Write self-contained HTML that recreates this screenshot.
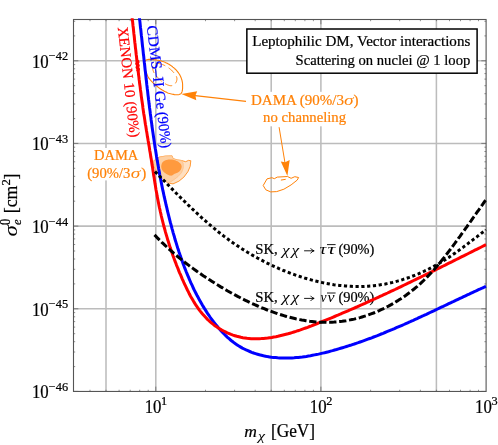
<!DOCTYPE html>
<html><head><meta charset="utf-8"><title>plot</title>
<style>html,body{margin:0;padding:0;background:#fff}svg{will-change:transform}body{width:498px;height:445px;overflow:hidden;font-family:"Liberation Serif",serif}</style></head>
<body>
<svg width="498" height="445" viewBox="0 0 498 445" style="display:block;font-family:'Liberation Serif',serif">
<rect width="498" height="445" fill="#fff"/>
<line x1="106.0" x2="106.0" y1="19.5" y2="391.45" stroke="#bcbcbc" stroke-width="1.55"/>
<line x1="155.8" x2="155.8" y1="19.5" y2="391.45" stroke="#bcbcbc" stroke-width="1.55"/>
<line x1="271.2" x2="271.2" y1="19.5" y2="391.45" stroke="#bcbcbc" stroke-width="1.55"/>
<line x1="320.9" x2="320.9" y1="19.5" y2="391.45" stroke="#bcbcbc" stroke-width="1.55"/>
<line x1="436.4" x2="436.4" y1="19.5" y2="391.45" stroke="#bcbcbc" stroke-width="1.55"/>
<line x1="73.5" x2="486.1" y1="60.8" y2="60.8" stroke="#bcbcbc" stroke-width="1.55"/>
<line x1="73.5" x2="486.1" y1="143.4" y2="143.4" stroke="#bcbcbc" stroke-width="1.55"/>
<line x1="73.5" x2="486.1" y1="226.1" y2="226.1" stroke="#bcbcbc" stroke-width="1.55"/>
<line x1="73.5" x2="486.1" y1="308.8" y2="308.8" stroke="#bcbcbc" stroke-width="1.55"/>
<clipPath id="cp"><rect x="73.5" y="18.3" width="413.20000000000005" height="373.15"/></clipPath>
<path d="M153.2,161.3 L159.0,157.2 L165.4,156.1 L172.1,155.9 L173.0,158.6 L177.1,159.9 L181.2,160.4 L185.7,161.7 L188.4,160.4 L190.8,160.7 L190.2,166.3 L187.9,171.7 L183.9,177.1 L178.9,181.2 L173.0,183.9 L168.1,183.0 L162.6,178.9 L157.2,172.6 L154.1,166.3Z" fill="#fee0c2" stroke="#ff8208" stroke-width="0.8" stroke-linejoin="round"/>
<path d="M153.2,161.3 L159.0,157.2 L165.4,156.1 L172.1,155.9 L173.0,158.6 L177.1,159.9 L181.6,160.6 L183.2,163.5 L183.3,168.0 L181.6,172.5 L178.0,176.6 L173.5,180.0 L169.8,182.4 L168.1,183.0 L162.6,178.9 L157.2,172.6 L154.1,166.3Z" fill="#fdd0a4" stroke="#fdb877" stroke-width="0.6" stroke-linejoin="round"/>
<path d="M161.2,166.4 L161.2,165.9 L161.3,165.4 L161.4,164.9 L161.5,164.4 L161.7,163.9 L161.8,163.5 L162.1,163.0 L162.3,162.6 L162.6,162.2 L162.9,161.9 L163.3,161.5 L163.7,161.2 L164.1,161.0 L164.5,160.7 L164.9,160.5 L165.4,160.3 L165.9,160.2 L166.3,160.0 L166.8,159.9 L167.3,159.8 L167.8,159.7 L168.3,159.6 L168.7,159.6 L169.2,159.5 L169.7,159.5 L170.2,159.5 L170.6,159.5 L171.1,159.5 L171.6,159.5 L172.0,159.6 L172.5,159.6 L173.0,159.7 L173.4,159.8 L173.9,159.9 L174.3,160.0 L174.8,160.2 L175.2,160.3 L175.7,160.5 L176.1,160.7 L176.6,160.9 L177.0,161.1 L177.5,161.3 L177.9,161.5 L178.3,161.8 L178.7,162.1 L179.1,162.4 L179.5,162.7 L179.9,163.0 L180.2,163.3 L180.5,163.7 L180.8,164.0 L181.1,164.4 L181.3,164.8 L181.4,165.2 L181.6,165.7 L181.6,166.1 L181.7,166.6 L181.6,167.0 L181.6,167.5 L181.4,168.0 L181.3,168.5 L181.1,169.0 L180.9,169.5 L180.6,169.9 L180.3,170.3 L180.0,170.7 L179.7,171.1 L179.4,171.4 L179.0,171.8 L178.6,172.0 L178.2,172.3 L177.8,172.5 L177.4,172.7 L177.0,172.9 L176.5,173.1 L176.1,173.2 L175.6,173.4 L175.2,173.6 L174.7,173.7 L174.3,173.9 L173.9,174.2 L173.5,174.4 L173.2,174.7 L172.8,175.0 L172.4,175.3 L172.1,175.5 L171.7,175.6 L171.2,175.7 L170.8,175.7 L170.4,175.6 L169.9,175.5 L169.4,175.4 L169.0,175.2 L168.5,175.0 L168.0,174.8 L167.6,174.6 L167.1,174.4 L166.7,174.1 L166.3,173.9 L165.8,173.6 L165.4,173.3 L165.0,173.0 L164.6,172.7 L164.3,172.4 L163.9,172.1 L163.6,171.8 L163.2,171.4 L162.9,171.1 L162.6,170.7 L162.4,170.3 L162.1,169.9 L161.9,169.5 L161.7,169.1 L161.6,168.7 L161.4,168.2 L161.3,167.8 L161.3,167.3 L161.2,166.9 L161.2,166.4Z" fill="#ff9a3e" stroke="none"/>
<path d="M145.6,60.5 L146.2,60.1 L147.0,59.7 L147.9,59.5 L148.8,59.4 L149.9,59.4 L151.0,59.4 L152.1,59.5 L153.2,59.6 L154.3,59.8 L155.4,59.9 L156.4,60.0 L157.3,60.2 L158.3,60.3 L159.2,60.5 L160.1,60.7 L161.0,60.9 L161.9,61.2 L162.8,61.4 L163.7,61.8 L164.6,62.1 L165.4,62.5 L166.3,62.9 L167.2,63.3 L168.0,63.8 L168.9,64.2 L169.7,64.8 L170.5,65.3 L171.4,65.9 L172.2,66.5 L172.9,67.1 L173.7,67.7 L174.4,68.4 L175.1,69.0 L175.8,69.7 L176.5,70.4 L177.1,71.2 L177.7,71.9 L178.3,72.7 L178.9,73.5 L179.4,74.3 L179.9,75.1 L180.3,75.9 L180.7,76.8 L181.1,77.7 L181.4,78.6 L181.7,79.5 L182.0,80.4 L182.2,81.3 L182.4,82.3 L182.5,83.2 L182.6,84.2 L182.6,85.2 L182.6,86.2 L182.6,87.2 L182.6,88.2 L182.5,89.2 L182.4,90.2 L182.2,91.2 L181.9,92.1 L181.5,93.0 L180.9,93.6 L180.2,94.1 L179.3,94.5 L178.4,94.7 L177.4,94.8 L176.4,94.8 L175.4,94.7 L174.4,94.6 L173.5,94.4 L172.5,94.2 L171.5,94.0 L170.6,93.8 L169.7,93.5 L168.7,93.2 L167.8,92.9 L166.9,92.5 L166.1,92.1 L165.2,91.7 L164.3,91.3 L163.5,90.8 L162.7,90.3 L161.8,89.8 L161.0,89.3 L160.2,88.8 L159.5,88.2 L158.7,87.6 L157.9,87.0 L157.2,86.4 L156.4,85.8 L155.7,85.2 L155.0,84.5 L154.2,83.8 L153.5,83.2 L152.8,82.5 L152.1,81.8 L151.4,81.1 L150.7,80.4 L150.1,79.7 L149.5,78.9 L148.9,78.2 L148.4,77.4 L147.9,76.6 L147.5,75.8 L147.2,74.9 L146.8,74.1 L146.5,73.1 L146.2,72.2 L145.9,71.2 L145.6,70.2 L145.4,69.1 L145.1,68.0 L144.9,66.9 L144.7,65.8 L144.6,64.7 L144.6,63.7 L144.6,62.7 L144.8,61.9 L145.1,61.1 L145.6,60.5Z" fill="none" stroke="#ff8208" stroke-width="1.1"/>
<path d="M161.1,64.1 L161.7,64.3 L162.3,64.5 L162.9,64.7 L163.4,64.9 L164.0,65.2 L164.5,65.4 L165.1,65.7 L165.6,66.0 L166.1,66.2 L166.6,66.5 L167.1,66.8 L167.6,67.1 L168.1,67.5 L168.6,67.8 L169.0,68.1 L169.5,68.5 L169.9,68.9 L170.4,69.2 L170.8,69.6 L171.3,70.0 L171.7,70.4 L172.1,70.9 L172.5,71.3 L173.0,71.7 L173.4,72.2 L173.8,72.7 L174.2,73.1 L174.6,73.6 L175.0,74.1 L175.3,74.6 L175.7,75.2 L176.0,75.7 L176.3,76.2 L176.5,76.8 L176.7,77.3 L176.8,77.9 L176.9,78.5 L176.9,79.1 L176.9,79.7 L176.8,80.3 L176.6,80.8 L176.5,81.4 L176.2,82.0 L175.9,82.5 L175.6,83.0 L175.3,83.5 L174.9,83.9 L174.5,84.3 L174.0,84.7 L173.5,85.0 L173.0,85.3 L172.5,85.5 L171.9,85.6 L171.4,85.7 L170.8,85.7 L170.2,85.7 L169.6,85.6 L169.0,85.4 L168.4,85.2 L167.8,85.0 L167.3,84.8 L166.7,84.5 L166.1,84.3 L165.6,84.0 L165.1,83.7 L164.5,83.4 L164.0,83.0 L163.5,82.7 L163.1,82.3 L162.6,82.0 L162.1,81.6 L161.7,81.2 L161.2,80.8 L160.8,80.5 L160.3,80.1 L159.9,79.6 L159.5,79.2 L159.0,78.8 L158.6,78.4 L158.2,78.0 L157.8,77.5 L157.3,77.1 L156.9,76.7 L156.5,76.2 L156.1,75.8 L155.7,75.3 L155.4,74.8 L155.0,74.3 L154.7,73.8 L154.3,73.3 L154.0,72.8 L153.8,72.2 L153.5,71.7 L153.3,71.1 L153.1,70.5 L152.9,69.9 L152.8,69.3 L152.7,68.6 L152.6,68.0 L152.6,67.4 L152.7,66.8 L152.7,66.3 L152.9,65.8 L153.1,65.3 L153.4,64.8 L153.7,64.4 L154.1,64.1 L154.6,63.8 L155.0,63.6 L155.5,63.4 L156.1,63.4 L156.7,63.3 L157.3,63.3 L157.9,63.4 L158.5,63.5 L159.2,63.6 L159.8,63.7 L160.4,63.9 L161.1,64.1Z" fill="none" stroke="#ff8208" stroke-width="1" stroke-dasharray="7.5 4" stroke-dashoffset="3"/>
<path d="M263.2,185.5 L267.0,178.9 L271.9,177.7 L274.3,178.7 L277.3,177.1 L287.5,176.5 L291.1,178.3 L294.8,176.7 L298.6,177.5 L297.2,180.1 L291.1,184.9 L283.9,189.2 L276.7,191.6 L270.7,191.9 L265.8,189.8Z" fill="none" stroke="#ff8208" stroke-width="1" stroke-linejoin="round"/>
<path d="M280.9,180.1 L285.7,179.3" stroke="#ff8208" stroke-width="1"/>
<path d="M246,101.3 L193,95.3" stroke="#ff8208" stroke-width="1.2" fill="none"/>
<path d="M181.4,93.9 L197.2,91.2 L195.4,95.5 L196.3,100.2 Z" fill="#ff8208"/>
<path d="M279.1,127.2 L285,163" stroke="#ff8208" stroke-width="1" fill="none"/>
<path d="M287.4,176 L280.8,161.4 L285.1,162.3 L289.7,159.9 Z" fill="#ff8208"/>
<rect x="73.5" y="19.5" width="412.6" height="371.95" fill="none" stroke="#555" stroke-width="1.1"/>
<path d="M90.0,391.45 v-1.7 M90.0,19.5 v1.7 M106.0,391.45 v-1.7 M106.0,19.5 v1.7 M119.1,391.45 v-1.7 M119.1,19.5 v1.7 M130.2,391.45 v-1.7 M130.2,19.5 v1.7 M139.7,391.45 v-1.7 M139.7,19.5 v1.7 M148.2,391.45 v-1.7 M148.2,19.5 v1.7 M155.8,391.45 v-4.8 M155.8,19.5 v4.8 M205.5,391.45 v-1.7 M205.5,19.5 v1.7 M234.6,391.45 v-1.7 M234.6,19.5 v1.7 M255.2,391.45 v-1.7 M255.2,19.5 v1.7 M271.2,391.45 v-1.7 M271.2,19.5 v1.7 M284.3,391.45 v-1.7 M284.3,19.5 v1.7 M295.3,391.45 v-1.7 M295.3,19.5 v1.7 M304.9,391.45 v-1.7 M304.9,19.5 v1.7 M313.4,391.45 v-1.7 M313.4,19.5 v1.7 M320.9,391.45 v-4.8 M320.9,19.5 v4.8 M370.6,391.45 v-1.7 M370.6,19.5 v1.7 M399.7,391.45 v-1.7 M399.7,19.5 v1.7 M420.4,391.45 v-1.7 M420.4,19.5 v1.7 M436.4,391.45 v-1.7 M436.4,19.5 v1.7 M449.5,391.45 v-1.7 M449.5,19.5 v1.7 M460.5,391.45 v-1.7 M460.5,19.5 v1.7 M470.1,391.45 v-1.7 M470.1,19.5 v1.7 M478.5,391.45 v-1.7 M478.5,19.5 v1.7 M73.5,391.4 h4.8 M486.1,391.4 h-4.8 M73.5,366.6 h1.7 M486.1,366.6 h-1.7 M73.5,352.0 h1.7 M486.1,352.0 h-1.7 M73.5,341.7 h1.7 M486.1,341.7 h-1.7 M73.5,333.7 h1.7 M486.1,333.7 h-1.7 M73.5,327.1 h1.7 M486.1,327.1 h-1.7 M73.5,321.6 h1.7 M486.1,321.6 h-1.7 M73.5,316.8 h1.7 M486.1,316.8 h-1.7 M73.5,312.6 h1.7 M486.1,312.6 h-1.7 M73.5,308.8 h4.8 M486.1,308.8 h-4.8 M73.5,283.9 h1.7 M486.1,283.9 h-1.7 M73.5,269.3 h1.7 M486.1,269.3 h-1.7 M73.5,259.0 h1.7 M486.1,259.0 h-1.7 M73.5,251.0 h1.7 M486.1,251.0 h-1.7 M73.5,244.5 h1.7 M486.1,244.5 h-1.7 M73.5,238.9 h1.7 M486.1,238.9 h-1.7 M73.5,234.1 h1.7 M486.1,234.1 h-1.7 M73.5,229.9 h1.7 M486.1,229.9 h-1.7 M73.5,226.1 h4.8 M486.1,226.1 h-4.8 M73.5,201.2 h1.7 M486.1,201.2 h-1.7 M73.5,186.7 h1.7 M486.1,186.7 h-1.7 M73.5,176.3 h1.7 M486.1,176.3 h-1.7 M73.5,168.3 h1.7 M486.1,168.3 h-1.7 M73.5,161.8 h1.7 M486.1,161.8 h-1.7 M73.5,156.3 h1.7 M486.1,156.3 h-1.7 M73.5,151.5 h1.7 M486.1,151.5 h-1.7 M73.5,147.2 h1.7 M486.1,147.2 h-1.7 M73.5,143.4 h4.8 M486.1,143.4 h-4.8 M73.5,118.6 h1.7 M486.1,118.6 h-1.7 M73.5,104.0 h1.7 M486.1,104.0 h-1.7 M73.5,93.7 h1.7 M486.1,93.7 h-1.7 M73.5,85.7 h1.7 M486.1,85.7 h-1.7 M73.5,79.1 h1.7 M486.1,79.1 h-1.7 M73.5,73.6 h1.7 M486.1,73.6 h-1.7 M73.5,68.8 h1.7 M486.1,68.8 h-1.7 M73.5,64.6 h1.7 M486.1,64.6 h-1.7 M73.5,60.8 h4.8 M486.1,60.8 h-4.8 M73.5,35.9 h1.7 M486.1,35.9 h-1.7 M73.5,21.3 h1.7 M486.1,21.3 h-1.7" stroke="#555" stroke-width="0.65" fill="none"/>
<text x="255.2" y="254.0" font-size="14.6" textLength="22.6" lengthAdjust="spacingAndGlyphs" stroke="#000" stroke-width="0.22">SK,</text>
<text x="282" y="254.8" font-size="13.6" font-style="italic" textLength="7.6" lengthAdjust="spacingAndGlyphs">χ</text>
<text x="291.6" y="254.8" font-size="13.6" font-style="italic" textLength="7.6" lengthAdjust="spacingAndGlyphs">χ</text>
<path d="M304.1,250.8 H314 M310.6,248.20000000000002 Q311.6,250.20000000000002 314.2,250.8 Q311.6,251.4 310.6,253.4" fill="none" stroke="#000" stroke-width="0.9"/>
<text x="319.6" y="254.0" font-size="14.6" font-style="italic" textLength="6.8" lengthAdjust="spacingAndGlyphs">τ</text>
<text x="327.6" y="254.0" font-size="14.6" font-style="italic" textLength="7.8" lengthAdjust="spacingAndGlyphs">τ</text>
<line x1="327" x2="335.6" y1="244.6" y2="244.6" stroke="#000" stroke-width="0.9"/>
<text x="338.4" y="254.0" font-size="14.6" textLength="36" lengthAdjust="spacingAndGlyphs" stroke="#000" stroke-width="0.22">(90%)</text>
<text x="255.2" y="301.6" font-size="14.6" textLength="22.6" lengthAdjust="spacingAndGlyphs" stroke="#000" stroke-width="0.22">SK,</text>
<text x="282" y="302.40000000000003" font-size="13.6" font-style="italic" textLength="7.6" lengthAdjust="spacingAndGlyphs">χ</text>
<text x="291.6" y="302.40000000000003" font-size="13.6" font-style="italic" textLength="7.6" lengthAdjust="spacingAndGlyphs">χ</text>
<path d="M304.1,298.40000000000003 H314 M310.6,295.8 Q311.6,297.8 314.2,298.40000000000003 Q311.6,299.00000000000006 310.6,301.00000000000006" fill="none" stroke="#000" stroke-width="0.9"/>
<text x="320.4" y="301.6" font-size="14.6" font-style="italic" textLength="6.0" lengthAdjust="spacingAndGlyphs">ν</text>
<text x="327.6" y="301.6" font-size="14.6" font-style="italic" textLength="7.0" lengthAdjust="spacingAndGlyphs">ν</text>
<line x1="327" x2="335.6" y1="293.0" y2="293.0" stroke="#000" stroke-width="0.9"/>
<text x="338.4" y="301.6" font-size="14.6" textLength="36" lengthAdjust="spacingAndGlyphs" stroke="#000" stroke-width="0.22">(90%)</text>
<g clip-path="url(#cp)" fill="none">
<path d="M139.4,17.6 L139.6,19.6 L139.9,21.6 L140.1,23.7 L140.3,25.7 L140.5,27.7 L140.8,29.8 L141.0,31.8 L141.2,33.8 L141.4,35.9 L141.7,37.9 L141.9,40.0 L142.1,42.0 L142.3,44.0 L142.5,46.1 L142.8,48.1 L143.0,50.2 L143.2,52.2 L143.4,54.3 L143.7,56.3 L143.9,58.3 L144.1,60.4 L144.3,62.4 L144.6,64.5 L144.8,66.5 L145.0,68.6 L145.2,70.6 L145.5,72.6 L145.7,74.7 L145.9,76.7 L146.1,78.8 L146.4,80.8 L146.6,82.9 L146.8,84.9 L147.1,87.0 L147.3,89.0 L147.6,91.1 L147.8,93.1 L148.0,95.1 L148.3,97.2 L148.5,99.2 L148.8,101.3 L149.0,103.3 L149.3,105.4 L149.5,107.4 L149.8,109.5 L150.1,111.5 L150.3,113.5 L150.6,115.6 L150.9,117.6 L151.1,119.7 L151.4,121.7 L151.7,123.7 L151.9,125.8 L152.2,127.8 L152.5,129.9 L152.8,131.9 L153.1,133.9 L153.4,136.0 L153.7,138.0 L154.0,140.1 L154.3,142.1 L154.6,144.1 L154.9,146.2 L155.2,148.2 L155.6,150.2 L155.9,152.3 L156.2,154.3 L156.5,156.3 L156.9,158.3 L157.2,160.4 L157.6,162.4 L157.9,164.4 L158.3,166.5 L158.6,168.5 L159.0,170.5 L159.4,172.5 L159.7,174.5 L160.1,176.6 L160.5,178.6 L160.9,180.6 L161.3,182.6 L161.7,184.6 L162.1,186.6 L162.5,188.7 L162.9,190.7 L163.4,192.7 L163.8,194.7 L164.2,196.7 L164.7,198.7 L165.1,200.7 L165.6,202.7 L166.0,204.7 L166.5,206.7 L167.0,208.7 L167.4,210.7 L167.9,212.7 L168.4,214.7 L168.9,216.7 L169.4,218.7 L169.9,220.7 L170.4,222.7 L171.0,224.6 L171.5,226.6 L172.0,228.6 L172.6,230.6 L173.1,232.6 L173.7,234.6 L174.3,236.5 L174.8,238.5 L175.4,240.5 L176.0,242.4 L176.6,244.4 L177.2,246.4 L177.8,248.3 L178.5,250.3 L179.1,252.2 L179.8,254.2 L180.4,256.1 L181.1,258.1 L181.8,260.0 L182.5,261.9 L183.2,263.9 L183.9,265.8 L184.6,267.7 L185.4,269.6 L186.1,271.5 L186.9,273.4 L187.7,275.3 L188.5,277.2 L189.3,279.1 L190.1,281.0 L190.9,282.9 L191.8,284.7 L192.7,286.6 L193.5,288.5 L194.4,290.3 L195.4,292.2 L196.3,294.0 L197.2,295.8 L198.2,297.6 L199.2,299.4 L200.2,301.2 L201.2,303.0 L202.2,304.8 L203.3,306.6 L204.4,308.4 L205.5,310.1 L206.6,311.9 L207.7,313.6 L208.9,315.3 L210.0,317.0 L211.2,318.7 L212.5,320.4 L213.7,322.0 L215.0,323.6 L216.3,325.2 L217.6,326.8 L218.9,328.4 L220.3,330.0 L221.7,331.5 L223.1,333.0 L224.6,334.5 L226.0,335.9 L227.5,337.3 L229.1,338.7 L230.6,340.0 L232.2,341.3 L233.9,342.6 L235.5,343.8 L237.2,344.9 L238.9,346.0 L240.7,347.1 L242.4,348.1 L244.2,349.0 L246.1,349.9 L247.9,350.7 L249.8,351.5 L251.7,352.3 L253.6,353.0 L255.5,353.6 L257.5,354.2 L259.4,354.8 L261.4,355.3 L263.4,355.8 L265.4,356.2 L267.4,356.6 L269.5,356.9 L271.5,357.2 L273.6,357.4 L275.6,357.6 L277.7,357.8 L279.7,357.9 L281.8,358.0 L283.8,358.1 L285.9,358.1 L288.0,358.1 L290.0,358.0 L292.1,357.9 L294.1,357.8 L296.2,357.6 L298.2,357.4 L300.3,357.2 L302.3,357.0 L304.4,356.7 L306.4,356.4 L308.4,356.0 L310.5,355.7 L312.5,355.3 L314.5,354.9 L316.6,354.5 L318.6,354.1 L320.6,353.6 L322.6,353.1 L324.6,352.7 L326.6,352.2 L328.6,351.7 L330.6,351.1 L332.6,350.6 L334.6,350.0 L336.6,349.5 L338.6,348.9 L340.6,348.3 L342.5,347.7 L344.5,347.1 L346.5,346.5 L348.4,345.9 L350.4,345.3 L352.3,344.6 L354.3,344.0 L356.2,343.3 L358.2,342.7 L360.1,342.0 L362.0,341.3 L364.0,340.6 L365.9,339.9 L367.8,339.2 L369.8,338.5 L371.7,337.8 L373.6,337.0 L375.5,336.3 L377.4,335.6 L379.3,334.8 L381.2,334.0 L383.1,333.3 L385.0,332.5 L386.9,331.7 L388.8,330.9 L390.7,330.1 L392.6,329.4 L394.5,328.6 L396.4,327.7 L398.3,326.9 L400.2,326.1 L402.1,325.3 L403.9,324.5 L405.8,323.6 L407.7,322.8 L409.6,322.0 L411.4,321.1 L413.3,320.3 L415.2,319.4 L417.1,318.6 L418.9,317.7 L420.8,316.8 L422.7,316.0 L424.5,315.1 L426.4,314.3 L428.3,313.4 L430.1,312.5 L432.0,311.6 L433.8,310.8 L435.7,309.9 L437.6,309.0 L439.4,308.1 L441.3,307.2 L443.2,306.4 L445.0,305.5 L446.9,304.6 L448.7,303.7 L450.6,302.8 L452.5,302.0 L454.3,301.1 L456.2,300.2 L458.0,299.3 L459.9,298.4 L461.8,297.6 L463.6,296.7 L465.5,295.8 L467.3,294.9 L469.2,294.1 L471.1,293.2 L472.9,292.3 L474.8,291.5 L476.7,290.6 L478.5,289.7 L480.4,288.9 L482.3,288.0 L484.2,287.2 L486.0,286.3" stroke="#0000ff" stroke-width="3"/>
<path d="M132.1,17.5 L132.3,19.6 L132.6,21.6 L132.8,23.7 L133.0,25.7 L133.3,27.8 L133.5,29.8 L133.7,31.9 L133.9,33.9 L134.2,36.0 L134.4,38.1 L134.6,40.1 L134.8,42.2 L135.1,44.2 L135.3,46.3 L135.5,48.3 L135.8,50.4 L136.0,52.5 L136.2,54.5 L136.5,56.6 L136.7,58.6 L136.9,60.7 L137.2,62.7 L137.4,64.8 L137.6,66.8 L137.9,68.9 L138.1,71.0 L138.4,73.0 L138.6,75.1 L138.9,77.1 L139.1,79.2 L139.4,81.2 L139.6,83.3 L139.9,85.3 L140.2,87.4 L140.4,89.4 L140.7,91.5 L141.0,93.5 L141.2,95.6 L141.5,97.6 L141.8,99.7 L142.1,101.7 L142.4,103.8 L142.7,105.8 L142.9,107.9 L143.2,109.9 L143.5,112.0 L143.8,114.0 L144.2,116.1 L144.5,118.1 L144.8,120.1 L145.1,122.2 L145.4,124.2 L145.8,126.2 L146.1,128.3 L146.4,130.3 L146.8,132.4 L147.1,134.4 L147.4,136.4 L147.8,138.5 L148.1,140.5 L148.5,142.6 L148.8,144.6 L149.2,146.6 L149.5,148.7 L149.8,150.7 L150.2,152.8 L150.5,154.8 L150.8,156.9 L151.2,158.9 L151.5,161.0 L151.8,163.0 L152.1,165.1 L152.5,167.1 L152.8,169.2 L153.1,171.3 L153.4,173.3 L153.7,175.4 L154.1,177.4 L154.4,179.5 L154.7,181.5 L155.0,183.6 L155.4,185.7 L155.7,187.7 L156.0,189.8 L156.4,191.8 L156.8,193.8 L157.1,195.9 L157.5,197.9 L157.9,199.9 L158.3,202.0 L158.7,204.0 L159.1,206.0 L159.5,208.0 L160.0,210.0 L160.4,212.0 L160.9,214.0 L161.3,216.0 L161.8,218.0 L162.3,220.0 L162.8,222.0 L163.3,224.0 L163.8,226.0 L164.4,228.0 L164.9,229.9 L165.4,231.9 L166.0,233.9 L166.6,235.9 L167.2,237.8 L167.7,239.8 L168.4,241.7 L169.0,243.7 L169.6,245.6 L170.2,247.6 L170.9,249.5 L171.6,251.5 L172.2,253.4 L172.9,255.4 L173.6,257.3 L174.3,259.3 L175.0,261.2 L175.8,263.1 L176.5,265.1 L177.3,267.0 L178.1,268.9 L178.8,270.9 L179.6,272.8 L180.5,274.7 L181.3,276.6 L182.1,278.6 L183.0,280.5 L183.8,282.4 L184.7,284.3 L185.6,286.2 L186.5,288.1 L187.4,290.0 L188.4,291.9 L189.3,293.8 L190.3,295.7 L191.3,297.5 L192.4,299.3 L193.4,301.1 L194.5,302.9 L195.6,304.7 L196.8,306.4 L198.0,308.1 L199.2,309.8 L200.4,311.4 L201.7,313.0 L203.0,314.6 L204.4,316.1 L205.8,317.6 L207.2,319.1 L208.7,320.5 L210.2,321.9 L211.7,323.2 L213.3,324.4 L214.9,325.7 L216.6,326.8 L218.3,328.0 L220.1,329.0 L221.8,330.1 L223.6,331.0 L225.4,331.9 L227.3,332.8 L229.2,333.6 L231.1,334.4 L233.0,335.1 L234.9,335.7 L236.9,336.3 L238.9,336.8 L240.9,337.3 L242.9,337.7 L244.9,338.0 L247.0,338.3 L249.0,338.5 L251.1,338.7 L253.1,338.8 L255.2,338.8 L257.3,338.8 L259.4,338.7 L261.4,338.6 L263.5,338.4 L265.6,338.2 L267.7,338.0 L269.7,337.7 L271.8,337.4 L273.8,337.0 L275.9,336.7 L277.9,336.3 L279.9,335.8 L282.0,335.3 L284.0,334.8 L286.0,334.3 L288.0,333.8 L290.0,333.2 L292.0,332.6 L293.9,332.0 L295.9,331.4 L297.9,330.7 L299.8,330.1 L301.8,329.4 L303.8,328.7 L305.7,328.0 L307.7,327.3 L309.6,326.5 L311.5,325.8 L313.5,325.0 L315.4,324.3 L317.4,323.5 L319.3,322.7 L321.2,322.0 L323.1,321.2 L325.1,320.4 L327.0,319.6 L328.9,318.8 L330.8,318.1 L332.7,317.3 L334.6,316.5 L336.5,315.7 L338.5,314.9 L340.4,314.0 L342.3,313.2 L344.2,312.4 L346.1,311.6 L348.0,310.8 L349.9,310.0 L351.8,309.1 L353.7,308.3 L355.6,307.5 L357.5,306.7 L359.3,305.8 L361.2,305.0 L363.1,304.1 L365.0,303.3 L366.9,302.4 L368.8,301.6 L370.7,300.7 L372.5,299.9 L374.4,299.0 L376.3,298.2 L378.2,297.3 L380.0,296.4 L381.9,295.6 L383.8,294.7 L385.7,293.8 L387.5,293.0 L389.4,292.1 L391.3,291.2 L393.2,290.3 L395.0,289.5 L396.9,288.6 L398.8,287.7 L400.6,286.8 L402.5,285.9 L404.3,285.0 L406.2,284.1 L408.1,283.2 L409.9,282.3 L411.8,281.4 L413.6,280.5 L415.5,279.6 L417.4,278.7 L419.2,277.8 L421.1,276.9 L422.9,276.0 L424.8,275.1 L426.7,274.2 L428.5,273.3 L430.4,272.4 L432.2,271.5 L434.1,270.6 L435.9,269.6 L437.8,268.7 L439.6,267.8 L441.5,266.9 L443.3,266.0 L445.2,265.1 L447.0,264.1 L448.9,263.2 L450.7,262.3 L452.6,261.4 L454.5,260.4 L456.3,259.5 L458.2,258.6 L460.0,257.7 L461.9,256.7 L463.7,255.8 L465.6,254.9 L467.4,254.0 L469.3,253.0 L471.1,252.1 L473.0,251.2 L474.8,250.2 L476.7,249.3 L478.6,248.4 L480.4,247.5 L482.3,246.5 L484.1,245.6 L486.0,244.7" stroke="#ff0000" stroke-width="3"/>
<path d="M137.1,60.5 l0.9,1.6 l-1.2,1.6 l1.4,1.8 l-1.1,1.9 l1.3,1.8 l-0.6,2.2" stroke="#ff0000" stroke-width="3.2" stroke-linejoin="round"/>
<path d="M155.0,171.5 L156.3,172.9 L157.7,174.2 L159.0,175.6 L160.3,177.0 L161.7,178.4 L163.0,179.7 L164.4,181.1 L165.7,182.5 L167.1,183.9 L168.4,185.2 L169.8,186.6 L171.1,188.0 L172.5,189.4 L173.8,190.7 L175.2,192.1 L176.5,193.5 L177.9,194.9 L179.3,196.2 L180.6,197.6 L182.0,198.9 L183.4,200.3 L184.8,201.7 L186.2,203.0 L187.5,204.4 L188.9,205.7 L190.3,207.1 L191.7,208.4 L193.1,209.7 L194.5,211.0 L195.9,212.4 L197.4,213.7 L198.8,215.0 L200.2,216.3 L201.6,217.6 L203.1,218.9 L204.5,220.2 L206.0,221.4 L207.4,222.7 L208.9,224.0 L210.3,225.2 L211.8,226.5 L213.3,227.7 L214.8,228.9 L216.3,230.2 L217.7,231.4 L219.2,232.6 L220.8,233.7 L222.3,234.9 L223.8,236.1 L225.3,237.2 L226.9,238.4 L228.4,239.5 L230.0,240.7 L231.5,241.8 L233.1,242.9 L234.6,244.0 L236.2,245.0 L237.8,246.1 L239.4,247.2 L241.0,248.2 L242.6,249.2 L244.2,250.2 L245.9,251.3 L247.5,252.3 L249.1,253.2 L250.8,254.2 L252.4,255.2 L254.1,256.1 L255.8,257.1 L257.4,258.0 L259.1,258.9 L260.8,259.8 L262.5,260.7 L264.2,261.6 L265.9,262.5 L267.6,263.3 L269.4,264.2 L271.1,265.0 L272.9,265.8 L274.6,266.6 L276.4,267.4 L278.1,268.2 L279.9,269.0 L281.7,269.7 L283.5,270.5 L285.3,271.2 L287.1,271.9 L288.9,272.6 L290.7,273.3 L292.5,274.0 L294.4,274.6 L296.2,275.3 L298.0,275.9 L299.9,276.5 L301.7,277.1 L303.6,277.7 L305.4,278.3 L307.3,278.8 L309.2,279.4 L311.1,279.9 L312.9,280.4 L314.8,280.9 L316.7,281.3 L318.6,281.8 L320.5,282.2 L322.4,282.6 L324.3,283.0 L326.2,283.4 L328.1,283.7 L330.0,284.1 L331.9,284.4 L333.8,284.7 L335.7,284.9 L337.6,285.2 L339.5,285.4 L341.4,285.6 L343.3,285.8 L345.3,286.0 L347.2,286.1 L349.1,286.2 L351.0,286.3 L352.9,286.4 L354.8,286.5 L356.7,286.5 L358.7,286.5 L360.6,286.5 L362.5,286.4 L364.4,286.4 L366.3,286.3 L368.2,286.2 L370.1,286.0 L372.0,285.9 L373.9,285.7 L375.8,285.4 L377.7,285.2 L379.6,284.9 L381.5,284.6 L383.4,284.3 L385.3,284.0 L387.1,283.6 L389.0,283.2 L390.9,282.8 L392.7,282.4 L394.6,281.9 L396.5,281.4 L398.3,280.9 L400.2,280.4 L402.0,279.8 L403.8,279.2 L405.7,278.6 L407.5,278.0 L409.3,277.4 L411.1,276.7 L412.9,276.0 L414.7,275.3 L416.5,274.6 L418.3,273.9 L420.0,273.1 L421.8,272.3 L423.6,271.5 L425.3,270.7 L427.1,269.9 L428.8,269.0 L430.5,268.1 L432.2,267.2 L433.9,266.3 L435.6,265.4 L437.3,264.5 L439.0,263.5 L440.6,262.5 L442.3,261.5 L443.9,260.5 L445.6,259.5 L447.2,258.4 L448.8,257.4 L450.4,256.3 L452.0,255.2 L453.6,254.1 L455.2,253.0 L456.7,251.9 L458.3,250.8 L459.9,249.6 L461.4,248.5 L463.0,247.4 L464.5,246.2 L466.1,245.1 L467.6,243.9 L469.1,242.7 L470.7,241.6 L472.2,240.4 L473.7,239.2 L475.2,238.1 L476.8,236.9 L478.3,235.7 L479.8,234.6 L481.3,233.4 L482.8,232.2 L484.3,231.1 L485.9,229.9" stroke="#000" stroke-width="3" stroke-dasharray="3.2 2.6"/>
<path d="M154.5,234.9 L156.0,236.4 L157.4,237.9 L158.9,239.4 L160.3,240.8 L161.8,242.3 L163.3,243.7 L164.8,245.1 L166.3,246.5 L167.8,247.9 L169.3,249.3 L170.8,250.7 L172.4,252.0 L173.9,253.4 L175.5,254.7 L177.0,256.0 L178.6,257.3 L180.2,258.6 L181.8,259.9 L183.4,261.2 L185.0,262.5 L186.6,263.7 L188.2,264.9 L189.9,266.2 L191.5,267.4 L193.2,268.6 L194.8,269.8 L196.5,271.0 L198.1,272.2 L199.8,273.3 L201.5,274.5 L203.2,275.7 L204.9,276.8 L206.6,277.9 L208.3,279.0 L210.0,280.1 L211.7,281.2 L213.4,282.3 L215.1,283.4 L216.9,284.5 L218.6,285.5 L220.3,286.6 L222.1,287.6 L223.8,288.7 L225.6,289.7 L227.3,290.7 L229.1,291.7 L230.9,292.7 L232.7,293.7 L234.5,294.7 L236.3,295.6 L238.1,296.6 L239.9,297.5 L241.7,298.5 L243.5,299.4 L245.4,300.3 L247.2,301.2 L249.1,302.1 L250.9,303.0 L252.8,303.8 L254.7,304.7 L256.6,305.5 L258.5,306.3 L260.4,307.2 L262.3,308.0 L264.2,308.7 L266.1,309.5 L268.1,310.3 L270.0,311.0 L271.9,311.7 L273.9,312.4 L275.9,313.1 L277.8,313.8 L279.8,314.4 L281.8,315.0 L283.8,315.6 L285.7,316.2 L287.7,316.8 L289.7,317.3 L291.7,317.8 L293.7,318.3 L295.7,318.8 L297.7,319.2 L299.7,319.6 L301.8,320.0 L303.8,320.3 L305.8,320.7 L307.8,321.0 L309.8,321.3 L311.9,321.5 L313.9,321.7 L315.9,321.9 L317.9,322.1 L319.9,322.2 L322.0,322.3 L324.0,322.3 L326.0,322.3 L328.0,322.3 L330.1,322.3 L332.1,322.2 L334.1,322.1 L336.1,321.9 L338.1,321.7 L340.1,321.5 L342.2,321.3 L344.2,321.0 L346.2,320.7 L348.2,320.3 L350.2,319.9 L352.1,319.5 L354.1,319.1 L356.1,318.6 L358.1,318.1 L360.0,317.6 L362.0,317.0 L363.9,316.4 L365.9,315.8 L367.8,315.1 L369.7,314.4 L371.7,313.7 L373.6,313.0 L375.5,312.2 L377.4,311.4 L379.2,310.6 L381.1,309.7 L383.0,308.9 L384.8,308.0 L386.6,307.0 L388.5,306.1 L390.3,305.1 L392.1,304.1 L393.9,303.1 L395.6,302.0 L397.4,300.9 L399.1,299.8 L400.9,298.7 L402.6,297.6 L404.3,296.4 L406.0,295.2 L407.6,294.0 L409.3,292.8 L410.9,291.5 L412.5,290.2 L414.1,289.0 L415.7,287.6 L417.3,286.3 L418.8,284.9 L420.4,283.6 L421.9,282.2 L423.4,280.8 L424.8,279.3 L426.3,277.9 L427.7,276.4 L429.1,275.0 L430.5,273.5 L431.9,272.0 L433.3,270.4 L434.7,268.9 L436.0,267.4 L437.3,265.8 L438.6,264.2 L440.0,262.7 L441.2,261.1 L442.5,259.5 L443.8,257.9 L445.1,256.3 L446.3,254.7 L447.6,253.0 L448.8,251.4 L450.1,249.8 L451.3,248.1 L452.5,246.5 L453.7,244.8 L455.0,243.2 L456.2,241.5 L457.4,239.9 L458.6,238.2 L459.8,236.6 L461.0,234.9 L462.2,233.2 L463.4,231.6 L464.6,229.9 L465.8,228.2 L467.0,226.6 L468.1,224.9 L469.3,223.2 L470.5,221.6 L471.7,219.9 L472.9,218.2 L474.0,216.5 L475.2,214.9 L476.4,213.2 L477.6,211.5 L478.8,209.9 L480.0,208.2 L481.1,206.5 L482.3,204.9 L483.5,203.2 L484.7,201.5 L485.9,199.9" stroke="#000" stroke-width="3" stroke-dasharray="7.3 2.7"/>
</g>
<rect x="246.85" y="29" width="230.25" height="44.2" fill="#fff" stroke="#000" stroke-width="1.5"/>
<text x="252.2" y="45.8" font-size="15" textLength="218.1" lengthAdjust="spacingAndGlyphs" stroke="#000" stroke-width="0.22">Leptophilic DM, Vector interactions</text>
<text x="295.5" y="64.6" font-size="15" textLength="174.8" lengthAdjust="spacingAndGlyphs" stroke="#000" stroke-width="0.22">Scattering on nuclei @ 1 loop</text>
<text transform="translate(31.9,67.8) scale(0.96,1.058)" x="0" y="0" font-size="17.5" stroke="#000" stroke-width="0.22">10</text><text x="48.8" y="60.4" font-size="12.3" stroke="#000" stroke-width="0.22">−42</text>
<text transform="translate(31.9,150.4) scale(0.96,1.058)" x="0" y="0" font-size="17.5" stroke="#000" stroke-width="0.22">10</text><text x="48.8" y="143.0" font-size="12.3" stroke="#000" stroke-width="0.22">−43</text>
<text transform="translate(31.9,233.1) scale(0.96,1.058)" x="0" y="0" font-size="17.5" stroke="#000" stroke-width="0.22">10</text><text x="48.8" y="225.7" font-size="12.3" stroke="#000" stroke-width="0.22">−44</text>
<text transform="translate(31.9,315.8) scale(0.96,1.058)" x="0" y="0" font-size="17.5" stroke="#000" stroke-width="0.22">10</text><text x="48.8" y="308.4" font-size="12.3" stroke="#000" stroke-width="0.22">−45</text>
<text transform="translate(31.9,398.4) scale(0.96,1.058)" x="0" y="0" font-size="17.5" stroke="#000" stroke-width="0.22">10</text><text x="48.8" y="391.0" font-size="12.3" stroke="#000" stroke-width="0.22">−46</text>
<text transform="translate(144.7,412.5) scale(0.96,1.058)" x="0" y="0" font-size="17.5" stroke="#000" stroke-width="0.22">10</text><text x="161.1" y="405.4" font-size="12.3" stroke="#000" stroke-width="0.22">1</text>
<text transform="translate(309.8,412.5) scale(0.96,1.058)" x="0" y="0" font-size="17.5" stroke="#000" stroke-width="0.22">10</text><text x="326.2" y="405.4" font-size="12.3" stroke="#000" stroke-width="0.22">2</text>
<text transform="translate(475.0,412.5) scale(0.96,1.058)" x="0" y="0" font-size="17.5" stroke="#000" stroke-width="0.22">10</text><text x="491.4" y="405.4" font-size="12.3" stroke="#000" stroke-width="0.22">3</text>
<text x="244.2" y="437.3" font-size="17.5" font-style="italic" stroke="#000" stroke-width="0.22">m</text>
<text x="257.9" y="440.1" font-size="13" font-style="italic" textLength="7" lengthAdjust="spacingAndGlyphs">χ</text>
<text x="270.9" y="437.3" font-size="17.8" textLength="44.2" lengthAdjust="spacingAndGlyphs" stroke="#000" stroke-width="0.22">[GeV]</text>
<g transform="translate(17,236.4) rotate(-90)"><text x="0" y="0" font-size="18.5" font-style="italic" textLength="11.3" lengthAdjust="spacingAndGlyphs">σ</text><text x="11.4" y="-6.8" font-size="15" textLength="6.2" lengthAdjust="spacingAndGlyphs" stroke="#000" stroke-width="0.22">0</text><text x="11.4" y="4.2" font-size="12.7" font-style="italic" stroke="#000" stroke-width="0.22">e</text><text x="23.2" y="0" font-size="17.8" stroke="#000" stroke-width="0.22">[cm</text><text x="50.9" y="-7" font-size="12.7" stroke="#000" stroke-width="0.22">2</text><text x="57" y="0" font-size="17.8" stroke="#000" stroke-width="0.22">]</text></g>
<rect x="249.5" y="91.8" width="110" height="34.5" fill="#fff"/>
<rect x="86" y="148" width="60.5" height="32.4" fill="#fff"/>
<text x="251" y="105.2" font-size="15" fill="#ff8208" textLength="93" lengthAdjust="spacingAndGlyphs" stroke="#ff8208" stroke-width="0.22">DAMA (90%/3</text>
<text x="343.9" y="105.2" font-size="15" fill="#ff8208" font-style="italic" textLength="9.6" lengthAdjust="spacingAndGlyphs">σ</text>
<text x="353.6" y="105.2" font-size="15" fill="#ff8208" stroke="#ff8208" stroke-width="0.22">)</text>
<text x="263.1" y="122.4" font-size="15" fill="#ff8208" textLength="83" lengthAdjust="spacingAndGlyphs" stroke="#ff8208" stroke-width="0.22">no channeling</text>
<text x="94" y="159.8" font-size="15" fill="#ff8208" textLength="44.3" lengthAdjust="spacingAndGlyphs" stroke="#ff8208" stroke-width="0.22">DAMA</text>
<text x="87.2" y="177.8" font-size="15" fill="#ff8208" textLength="43.2" lengthAdjust="spacingAndGlyphs" stroke="#ff8208" stroke-width="0.22">(90%/3</text>
<text x="130.8" y="177.8" font-size="15" fill="#ff8208" font-style="italic" textLength="9.6" lengthAdjust="spacingAndGlyphs">σ</text>
<text x="141.2" y="177.8" font-size="15" fill="#ff8208" stroke="#ff8208" stroke-width="0.22">)</text>
<g transform="translate(117.8,27.4) rotate(83.7)"><text x="0" y="0" font-size="14.9" fill="#ff0000" textLength="70.9" lengthAdjust="spacingAndGlyphs" stroke="#ff0000" stroke-width="0.22">XENON 10</text><text x="75.1" y="0" font-size="14.9" fill="#ff0000" textLength="35.9" lengthAdjust="spacingAndGlyphs" stroke="#ff0000" stroke-width="0.22">(90%)</text></g>
<g transform="translate(146.8,26.0) rotate(83.2)"><text x="0" y="0" font-size="15.25" fill="#0000ff" textLength="84.2" lengthAdjust="spacingAndGlyphs" stroke="#0000ff" stroke-width="0.22">CDMS–II Ge</text><text x="87.2" y="0" font-size="15.25" fill="#0000ff" textLength="36.2" lengthAdjust="spacingAndGlyphs" stroke="#0000ff" stroke-width="0.22">(90%)</text></g>
</svg>
</body></html>
